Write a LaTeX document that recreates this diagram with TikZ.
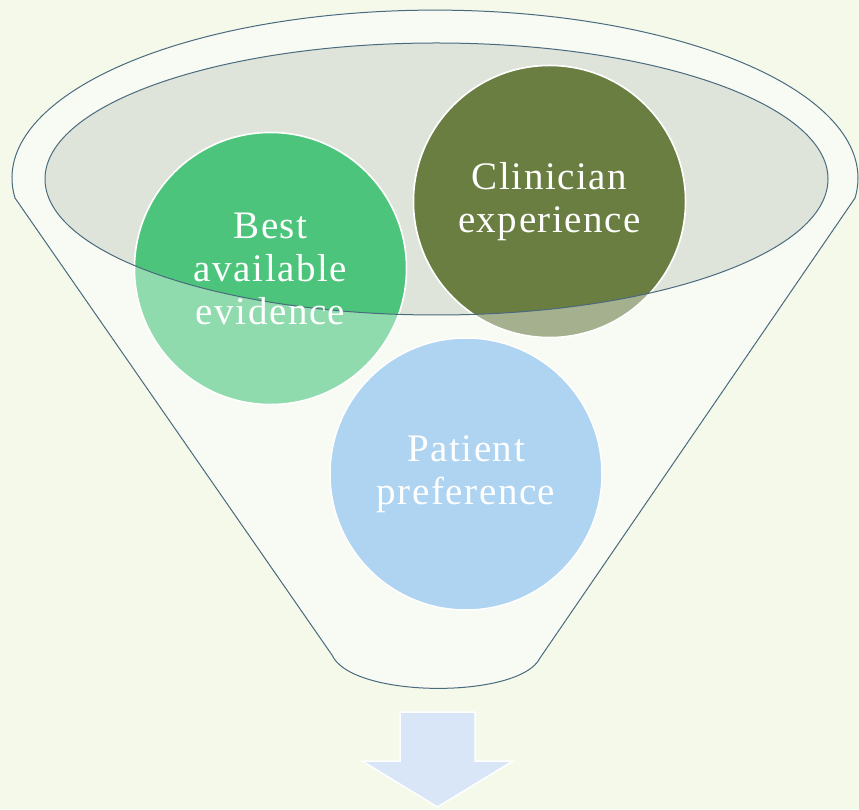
\documentclass[tikz,border=0pt]{standalone}
\usepackage{fontspec}
\setmainfont{Liberation Serif}
\newfontfamily\lblfont[LetterSpace=4]{Liberation Serif}
\definecolor{bg}{HTML}{F5F9EA}
\definecolor{funnelfill}{HTML}{F8FBF3}
\definecolor{innerfill}{HTML}{DFE4DB}
\definecolor{edge}{HTML}{4A6A7E}
\definecolor{greenfull}{HTML}{4DC47B}
\definecolor{greenlight}{HTML}{90DBAE}
\definecolor{olivefull}{HTML}{6A7E41}
\definecolor{olivelight}{HTML}{A5B08E}
\definecolor{bluelight}{HTML}{AED4F1}
\definecolor{arrowfill}{HTML}{D8E6F7}
\begin{document}
\begin{tikzpicture}[x=1pt,y=1pt,
  circ/.style={circle,minimum size=272pt,inner sep=0pt,draw=white,line width=1.5pt},
  lbl/.style={text=white,align=center,font=\lblfont\fontsize{39}{43}\selectfont},
  outline/.style={draw=edge,line width=1pt}]
\useasboundingbox (0,0) rectangle (859,809);
\fill[bg] (0,0) rectangle (859,809);
% funnel body with top ellipse
\path[outline,fill=funnelfill] (15,611) arc[start angle=186.8,end angle=-6.8,x radius=423,y radius=168]
  -- (540,151) .. controls (520,110) and (352,110) .. (332,154) -- cycle;
% inner ellipse fill
\fill[innerfill] (436.5,630) ellipse[x radius=391.5,y radius=136];
% circles (light versions)
\node[circ,fill=greenlight] (best) at (270.5,540.5) {};
\node[circ,fill=olivelight] (clin) at (549.5,607.5) {};
\node[circ,fill=bluelight] (pat) at (466,335) {};
% full colour inside the inner ellipse
\begin{scope}
  \clip (436.5,630) ellipse[x radius=391.5,y radius=136];
  \filldraw[fill=greenfull,draw=white,line width=1.5pt] (best.center) circle[radius=136];
  \filldraw[fill=olivefull,draw=white,line width=1.5pt] (clin.center) circle[radius=136];
\end{scope}
\draw[outline] (436.5,630) ellipse[x radius=391.5,y radius=136];
% labels
\node[lbl] (bestt) at (best.center) {Best\\available\\evidence};
\node[lbl] (clint) at (clin.center) {Clinician\\experience};
\node[lbl] (patt) at (pat.center) {Patient\\preference};
% arrow
\filldraw[fill=arrowfill,draw=white,line width=1.5pt]
  (400,97) -- (475,97) -- (475,48) -- (513,48) -- (437.5,2) -- (362,48) -- (400,48) -- cycle;
\end{tikzpicture}
\end{document}
